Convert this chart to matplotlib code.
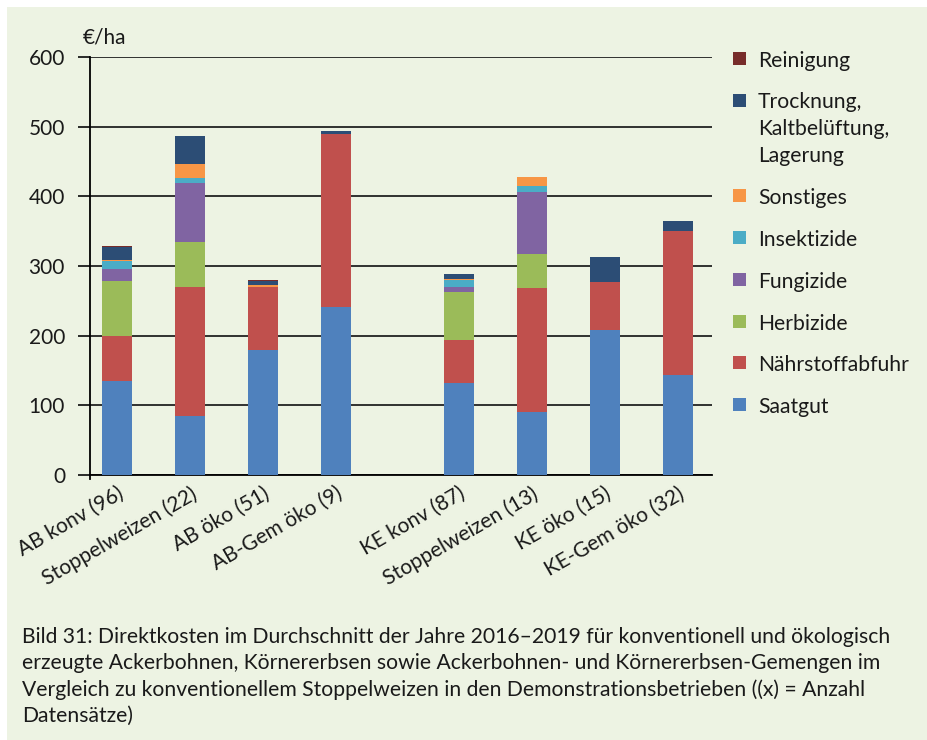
import numpy as np
import matplotlib
matplotlib.use('Agg')
import matplotlib.pyplot as plt
from matplotlib.patches import Rectangle

# --- Data (EUR/ha) -------------------------------------------------------------------------
categories = ["AB konv (96)", "Stoppelweizen (22)", "AB öko (51)", "AB-Gem öko (9)",
              "KE konv (87)", "Stoppelweizen (13)", "KE öko (15)", "KE-Gem öko (32)"]

saatgut      = [135, 85, 180, 241, 132, 91, 208, 143]
naehrstoff   = [65, 185, 90, 248, 62, 177, 69, 207]
herbizide    = [78, 64, 0, 0, 69, 49, 0, 0]
fungizide    = [18, 85, 0, 0, 7, 89, 0, 0]
insektizide  = [11, 7, 0, 0, 10, 9, 0, 0]
sonstiges    = [2, 20, 3, 0, 2, 13, 0, 0]
trocknung    = [18, 40, 5, 4.5, 6.5, 0, 36, 14]
reinigung    = [2, 0, 2, 0, 0, 0, 0, 0]

series_names = ["Saatgut", "Nährstoffabfuhr", "Herbizide", "Fungizide", "Insektizide",
                "Sonstiges", "Trocknung,\nKaltbelüftung,\nLagerung", "Reinigung"]
series_vals = [saatgut, naehrstoff, herbizide, fungizide, insektizide,
               sonstiges, trocknung, reinigung]
colors = ["#4F81BD", "#C0504D", "#9BBB59", "#8064A2", "#4BACC6",
          "#F79646", "#2C4D75", "#772C2A"]

caption = ("Bild 31: Direktkosten im Durchschnitt der Jahre 2016\u20132019 für konventionell und ökologisch\n"
           "erzeugte Ackerbohnen, Körnererbsen sowie Ackerbohnen- und Körnererbsen-Gemengen im\n"
           "Vergleich zu konventionellem Stoppelweizen in den Demonstrationsbetrieben ((x) = Anzahl\n"
           "Datensätze)")

# --- Figure ---------------------------------------------------------------------------------
BG = "#EDF3E3"
TXT = "#1a1a1a"
W, H = 927, 740
plt.rcParams['font.family'] = ['Lato', 'DejaVu Sans']

fig = plt.figure(figsize=(W / 100, H / 100), dpi=100, facecolor="white")
# light green panel with a thin white margin top/left
fig.patches.append(Rectangle((7 / W, 0), 1, 1 - 7 / H, transform=fig.transFigure,
                             facecolor=BG, edgecolor="none", zorder=-10))

ax = fig.add_axes([90 / W, 1 - 475 / H, (712 - 90) / W, (475 - 57) / H])
ax.set_facecolor(BG)

x = np.concatenate([np.arange(4), np.arange(4) + 4.68])
bottom = np.zeros(len(categories))
for vals, col in zip(series_vals, colors):
    ax.bar(x, vals, width=0.41, bottom=bottom, color=col, zorder=3, linewidth=0)
    bottom += np.array(vals)

ax.set_ylim(0, 600)
ax.set_xlim(-0.37, 8.15)
ax.set_yticks(range(0, 601, 100))
ax.yaxis.grid(True, color="#222222", linewidth=1.3, zorder=1)
ax.set_axisbelow(True)
for s in ["top", "right"]:
    ax.spines[s].set_visible(False)
ax.spines["left"].set_linewidth(1.3)
ax.spines["bottom"].set_linewidth(1.3)
ax.spines["left"].set_bounds(-6, 600)
ax.tick_params(axis="y", direction="out", length=9, width=1.3, pad=9, labelsize=15, colors=TXT)
ax.tick_params(axis="x", length=0, pad=6, labelsize=15, colors=TXT)
ax.set_xticks(x)
ax.set_xticklabels(categories, rotation=30, ha="right", rotation_mode="anchor")

fig.text(83 / W, 1 - 37 / H, "\u20ac/ha", fontsize=15, va="center", ha="left", color=TXT)

# --- Legend (manual, top to bottom) -----------------------------------------------------------
leg_y = [59, 101, 196, 238, 280, 322, 363, 405]
line_px = 26.5
for (name, col), yy in zip(list(zip(series_names, colors))[::-1], leg_y):
    fig.patches.append(Rectangle((733 / W, 1 - (yy + 6) / H), 13 / W, 13 / H,
                                 transform=fig.transFigure, facecolor=col, edgecolor="none"))
    # baseline of the last line (matplotlib aligns multi-line baseline text on the last line)
    base = yy + 8 + name.count("\n") * line_px
    fig.text(758 / W, 1 - base / H, name, fontsize=15.2, va="baseline", ha="left",
             color=TXT, linespacing=1.45)

# --- Caption ---------------------------------------------------------------------------------
fig.text(22 / W, 1 - 627 / H, caption, fontsize=15.2, va="top", ha="left",
         color=TXT, linespacing=1.38)

fig.savefig("out.png", dpi=100, facecolor="white")
